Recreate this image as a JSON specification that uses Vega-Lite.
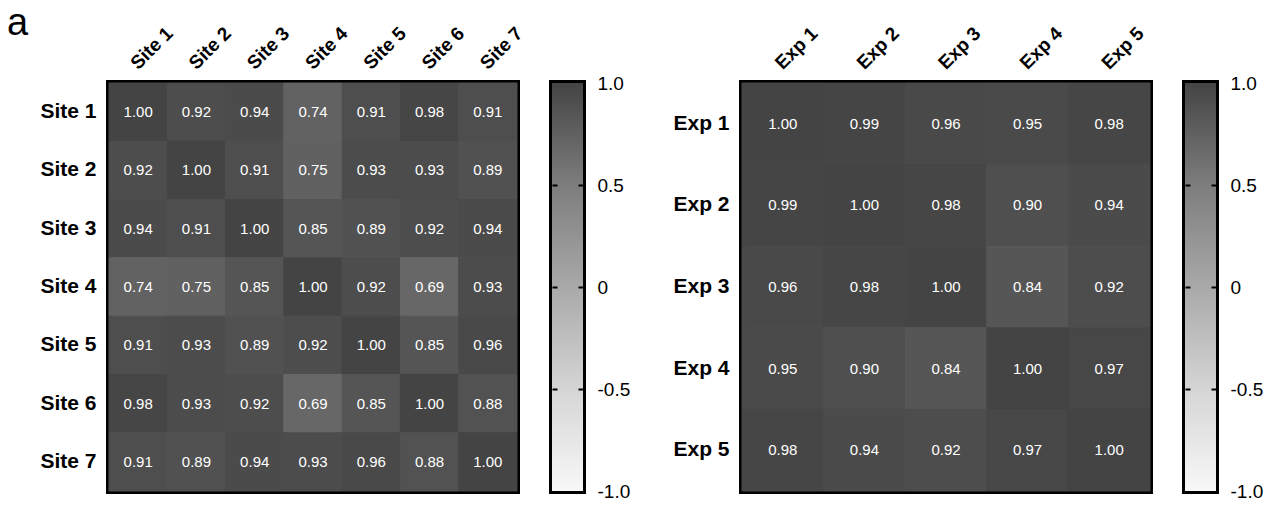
{
  "$schema": "https://vega.github.io/schema/vega-lite/v6.json",
  "background": "white",
  "padding": {"left": 6, "top": 4, "right": 5, "bottom": 5},
  "title": {"text": "a", "anchor": "start", "fontSize": 38, "fontWeight": "normal", "font": "Liberation Sans", "color": "black", "offset": -22, "dx": -30},
  "config": {
    "font": "Liberation Sans",
    "view": {"stroke": "black", "strokeWidth": 6},
    "axis": {"grid": false, "domain": false, "ticks": false, "title": null, "labelColor": "black"}
  },
  "datasets": {
    "sites": [
      {"r": "Site 1", "c": "Site 1", "v": 1.00}, {"r": "Site 1", "c": "Site 2", "v": 0.92}, {"r": "Site 1", "c": "Site 3", "v": 0.94}, {"r": "Site 1", "c": "Site 4", "v": 0.74}, {"r": "Site 1", "c": "Site 5", "v": 0.91}, {"r": "Site 1", "c": "Site 6", "v": 0.98}, {"r": "Site 1", "c": "Site 7", "v": 0.91},
      {"r": "Site 2", "c": "Site 1", "v": 0.92}, {"r": "Site 2", "c": "Site 2", "v": 1.00}, {"r": "Site 2", "c": "Site 3", "v": 0.91}, {"r": "Site 2", "c": "Site 4", "v": 0.75}, {"r": "Site 2", "c": "Site 5", "v": 0.93}, {"r": "Site 2", "c": "Site 6", "v": 0.93}, {"r": "Site 2", "c": "Site 7", "v": 0.89},
      {"r": "Site 3", "c": "Site 1", "v": 0.94}, {"r": "Site 3", "c": "Site 2", "v": 0.91}, {"r": "Site 3", "c": "Site 3", "v": 1.00}, {"r": "Site 3", "c": "Site 4", "v": 0.85}, {"r": "Site 3", "c": "Site 5", "v": 0.89}, {"r": "Site 3", "c": "Site 6", "v": 0.92}, {"r": "Site 3", "c": "Site 7", "v": 0.94},
      {"r": "Site 4", "c": "Site 1", "v": 0.74}, {"r": "Site 4", "c": "Site 2", "v": 0.75}, {"r": "Site 4", "c": "Site 3", "v": 0.85}, {"r": "Site 4", "c": "Site 4", "v": 1.00}, {"r": "Site 4", "c": "Site 5", "v": 0.92}, {"r": "Site 4", "c": "Site 6", "v": 0.69}, {"r": "Site 4", "c": "Site 7", "v": 0.93},
      {"r": "Site 5", "c": "Site 1", "v": 0.91}, {"r": "Site 5", "c": "Site 2", "v": 0.93}, {"r": "Site 5", "c": "Site 3", "v": 0.89}, {"r": "Site 5", "c": "Site 4", "v": 0.92}, {"r": "Site 5", "c": "Site 5", "v": 1.00}, {"r": "Site 5", "c": "Site 6", "v": 0.85}, {"r": "Site 5", "c": "Site 7", "v": 0.96},
      {"r": "Site 6", "c": "Site 1", "v": 0.98}, {"r": "Site 6", "c": "Site 2", "v": 0.93}, {"r": "Site 6", "c": "Site 3", "v": 0.92}, {"r": "Site 6", "c": "Site 4", "v": 0.69}, {"r": "Site 6", "c": "Site 5", "v": 0.85}, {"r": "Site 6", "c": "Site 6", "v": 1.00}, {"r": "Site 6", "c": "Site 7", "v": 0.88},
      {"r": "Site 7", "c": "Site 1", "v": 0.91}, {"r": "Site 7", "c": "Site 2", "v": 0.89}, {"r": "Site 7", "c": "Site 3", "v": 0.94}, {"r": "Site 7", "c": "Site 4", "v": 0.93}, {"r": "Site 7", "c": "Site 5", "v": 0.96}, {"r": "Site 7", "c": "Site 6", "v": 0.88}, {"r": "Site 7", "c": "Site 7", "v": 1.00}
    ],
    "exps": [
      {"r": "Exp 1", "c": "Exp 1", "v": 1.00}, {"r": "Exp 1", "c": "Exp 2", "v": 0.99}, {"r": "Exp 1", "c": "Exp 3", "v": 0.96}, {"r": "Exp 1", "c": "Exp 4", "v": 0.95}, {"r": "Exp 1", "c": "Exp 5", "v": 0.98},
      {"r": "Exp 2", "c": "Exp 1", "v": 0.99}, {"r": "Exp 2", "c": "Exp 2", "v": 1.00}, {"r": "Exp 2", "c": "Exp 3", "v": 0.98}, {"r": "Exp 2", "c": "Exp 4", "v": 0.90}, {"r": "Exp 2", "c": "Exp 5", "v": 0.94},
      {"r": "Exp 3", "c": "Exp 1", "v": 0.96}, {"r": "Exp 3", "c": "Exp 2", "v": 0.98}, {"r": "Exp 3", "c": "Exp 3", "v": 1.00}, {"r": "Exp 3", "c": "Exp 4", "v": 0.84}, {"r": "Exp 3", "c": "Exp 5", "v": 0.92},
      {"r": "Exp 4", "c": "Exp 1", "v": 0.95}, {"r": "Exp 4", "c": "Exp 2", "v": 0.90}, {"r": "Exp 4", "c": "Exp 3", "v": 0.84}, {"r": "Exp 4", "c": "Exp 4", "v": 1.00}, {"r": "Exp 4", "c": "Exp 5", "v": 0.97},
      {"r": "Exp 5", "c": "Exp 1", "v": 0.98}, {"r": "Exp 5", "c": "Exp 2", "v": 0.94}, {"r": "Exp 5", "c": "Exp 3", "v": 0.92}, {"r": "Exp 5", "c": "Exp 4", "v": 0.97}, {"r": "Exp 5", "c": "Exp 5", "v": 1.00}
    ],
    "bar": [{"k": "bar", "lo": -1, "hi": 1}]
  },
  "spacing": 36,
  "hconcat": [
    {
      "spacing": 35,
      "bounds": "flush",
      "hconcat": [
        {
          "width": 408, "height": 408,
          "data": {"name": "sites"},
          "encoding": {
            "x": {"field": "c", "type": "nominal", "sort": null, "axis": {"orient": "top", "labelAngle": -45, "labelAlign": "left", "labelBaseline": "alphabetic", "labelFontSize": 19, "labelFontWeight": "bold", "labelPadding": 13}},
            "y": {"field": "r", "type": "nominal", "sort": null, "axis": {"labelFontSize": 21, "labelFontWeight": "bold", "labelPadding": 13}}
          },
          "layer": [
            {"mark": {"type": "rect", "strokeWidth": 1}, "encoding": {
              "color": {"field": "v", "type": "quantitative", "legend": null, "scale": {"domain": [-1, -0.5, 0, 0.5, 1], "range": ["#f8f8f8", "#d5d5d5", "#a9a9a9", "#7d7d7d", "#444444"], "interpolate": "rgb"}},
              "stroke": {"field": "v", "type": "quantitative", "legend": null, "scale": {"domain": [-1, -0.5, 0, 0.5, 1], "range": ["#f8f8f8", "#d5d5d5", "#a9a9a9", "#7d7d7d", "#444444"], "interpolate": "rgb"}}
            }},
            {"mark": {"type": "text", "fontSize": 15, "color": "white"}, "encoding": {"text": {"field": "v", "type": "quantitative", "format": ".2f"}}}
          ]
        },
        {
          "width": 31, "height": 408,
          "data": {"name": "bar"},
          "encoding": {
            "x": {"field": "k", "type": "nominal", "axis": null}
          },
          "layer": [
            {
              "mark": {"type": "rect", "fill": {"gradient": "linear", "x1": 0, "y1": 1, "x2": 0, "y2": 0, "stops": [{"offset": 0, "color": "#f8f8f8"}, {"offset": 0.25, "color": "#d5d5d5"}, {"offset": 0.5, "color": "#a9a9a9"}, {"offset": 0.75, "color": "#7d7d7d"}, {"offset": 1, "color": "#444444"}]}},
              "encoding": {
                "y": {"field": "lo", "type": "quantitative", "scale": {"domain": [-1, 1], "nice": false, "zero": false}, "axis": {"orient": "right", "zindex": 2, "values": [-1, -0.5, 0, 0.5, 1], "ticks": true, "tickSize": -5, "tickWidth": 2, "tickColor": {"condition": {"test": "abs(datum.value) == 1", "value": "transparent"}, "value": "black"}, "labelExpr": "datum.value == 0 ? '0' : (datum.value < 0 ? '-' : '') + format(abs(datum.value), '.1f')", "labelFontSize": 19, "labelPadding": 19}},
                "y2": {"field": "hi"}
              }
            },
            {
              "mark": {"type": "rect", "opacity": 0},
              "encoding": {
                "y": {"field": "lo", "type": "quantitative", "axis": {"orient": "left", "zindex": 2, "values": [-0.5, 0, 0.5], "ticks": true, "tickSize": -5, "tickWidth": 2, "tickColor": "black", "labels": false}},
                "y2": {"field": "hi"}
              }
            }
          ]
        }
      ]
    },
    {
      "spacing": 35,
      "bounds": "flush",
      "hconcat": [
        {
          "width": 408, "height": 408,
          "data": {"name": "exps"},
          "encoding": {
            "x": {"field": "c", "type": "nominal", "sort": null, "axis": {"orient": "top", "labelAngle": -45, "labelAlign": "left", "labelBaseline": "alphabetic", "labelFontSize": 19, "labelFontWeight": "bold", "labelPadding": 13}},
            "y": {"field": "r", "type": "nominal", "sort": null, "axis": {"labelFontSize": 21, "labelFontWeight": "bold", "labelPadding": 13}}
          },
          "layer": [
            {"mark": {"type": "rect", "strokeWidth": 1}, "encoding": {
              "color": {"field": "v", "type": "quantitative", "legend": null, "scale": {"domain": [-1, -0.5, 0, 0.5, 1], "range": ["#f8f8f8", "#d5d5d5", "#a9a9a9", "#7d7d7d", "#444444"], "interpolate": "rgb"}},
              "stroke": {"field": "v", "type": "quantitative", "legend": null, "scale": {"domain": [-1, -0.5, 0, 0.5, 1], "range": ["#f8f8f8", "#d5d5d5", "#a9a9a9", "#7d7d7d", "#444444"], "interpolate": "rgb"}}
            }},
            {"mark": {"type": "text", "fontSize": 15, "color": "white"}, "encoding": {"text": {"field": "v", "type": "quantitative", "format": ".2f"}}}
          ]
        },
        {
          "width": 31, "height": 408,
          "data": {"name": "bar"},
          "encoding": {
            "x": {"field": "k", "type": "nominal", "axis": null}
          },
          "layer": [
            {
              "mark": {"type": "rect", "fill": {"gradient": "linear", "x1": 0, "y1": 1, "x2": 0, "y2": 0, "stops": [{"offset": 0, "color": "#f8f8f8"}, {"offset": 0.25, "color": "#d5d5d5"}, {"offset": 0.5, "color": "#a9a9a9"}, {"offset": 0.75, "color": "#7d7d7d"}, {"offset": 1, "color": "#444444"}]}},
              "encoding": {
                "y": {"field": "lo", "type": "quantitative", "scale": {"domain": [-1, 1], "nice": false, "zero": false}, "axis": {"orient": "right", "zindex": 2, "values": [-1, -0.5, 0, 0.5, 1], "ticks": true, "tickSize": -5, "tickWidth": 2, "tickColor": {"condition": {"test": "abs(datum.value) == 1", "value": "transparent"}, "value": "black"}, "labelExpr": "datum.value == 0 ? '0' : (datum.value < 0 ? '-' : '') + format(abs(datum.value), '.1f')", "labelFontSize": 19, "labelPadding": 19}},
                "y2": {"field": "hi"}
              }
            },
            {
              "mark": {"type": "rect", "opacity": 0},
              "encoding": {
                "y": {"field": "lo", "type": "quantitative", "axis": {"orient": "left", "zindex": 2, "values": [-0.5, 0, 0.5], "ticks": true, "tickSize": -5, "tickWidth": 2, "tickColor": "black", "labels": false}},
                "y2": {"field": "hi"}
              }
            }
          ]
        }
      ]
    }
  ]
}
